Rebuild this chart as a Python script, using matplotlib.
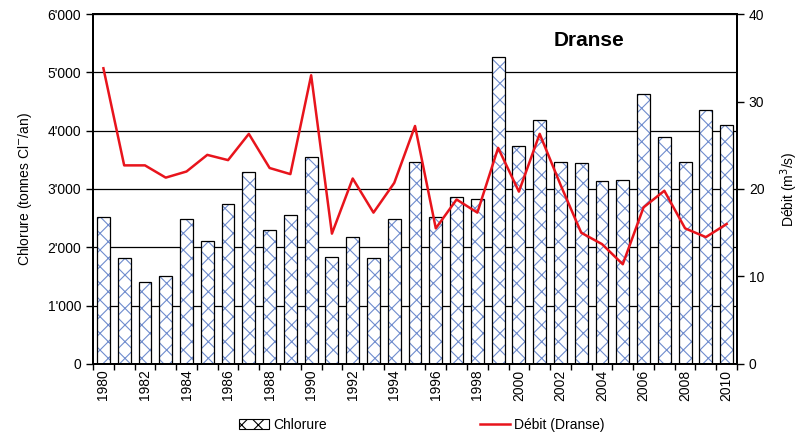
import numpy as np
import matplotlib.pyplot as plt
from matplotlib.ticker import FuncFormatter
from matplotlib.patches import Patch
from matplotlib.lines import Line2D

plt.rcParams['font.family'] = ['Liberation Sans', 'DejaVu Sans']

years = list(range(1980, 2011))
chlorure = [2520, 1820, 1400, 1500, 2490, 2100, 2750, 3290, 2290, 2550,
            3550, 1840, 2180, 1820, 2490, 3460, 2520, 2860, 2820, 5260,
            3730, 4190, 3470, 3450, 3130, 3150, 4630, 3890, 3470, 4350,
            4090]
debit = [33.8, 22.7, 22.7, 21.3, 22.0, 23.9, 23.3, 26.3, 22.4, 21.7,
         33.0, 14.9, 21.2, 17.3, 20.7, 27.2, 15.5, 18.8, 17.3, 24.7,
         19.7, 26.3, 20.5, 15.0, 13.7, 11.4, 17.9, 19.8, 15.5, 14.5,
         16.0]

HATCH_BLUE = '#6f8cce'
RED = '#e8141c'

fig = plt.figure(figsize=(8.11, 4.38), dpi=100)
ax = fig.add_axes([0.1147, 0.169, 0.7941, 0.799])
x = np.arange(len(years))

plt.rcParams['hatch.linewidth'] = 0.8
ax.bar(x, chlorure, width=0.62, color='white', edgecolor=HATCH_BLUE,
       hatch='xx', linewidth=0, zorder=2)
ax.bar(x, chlorure, width=0.62, color='none', edgecolor='black',
       linewidth=0.9, zorder=3)

ax.set_ylim(0, 6000)
ax.set_xlim(-0.5, len(years) - 0.5)
ax.set_yticks(range(0, 6001, 1000))
ax.yaxis.set_major_formatter(FuncFormatter(lambda v, p: f"{int(v):,}".replace(',', "'")))
ax.grid(axis='y', color='black', linewidth=0.9, zorder=1)
ax.set_axisbelow(True)

ax.set_xticks(x[::2])
ax.set_xticklabels([str(y) for y in years[::2]], rotation=90)
ax.set_xticks(np.arange(-0.5, len(years), 1), minor=True)
ax.tick_params(axis='x', which='major', length=0, pad=4, labelsize=10)
ax.tick_params(axis='x', which='minor', length=4, direction='out', width=1)
ax.tick_params(axis='y', length=5, direction='out', width=1, labelsize=10)
ax.set_ylabel('Chlorure (tonnes Cl$^{-}$/an)', fontsize=10, labelpad=10)

for s in ax.spines.values():
    s.set_linewidth(1.4)
    s.set_color('black')

ax2 = ax.twinx()
ax2.plot(x, debit, color=RED, linewidth=1.8, zorder=4)
ax2.set_ylim(0, 40)
ax2.set_yticks(range(0, 41, 10))
ax2.tick_params(axis='y', length=5, direction='out', width=1, labelsize=10)
ax2.set_ylabel('Débit (m$^3$/s)', fontsize=10, labelpad=10)
for s in ax2.spines.values():
    s.set_linewidth(1.4)

ax.text(0.77, 0.925, 'Dranse', transform=ax.transAxes, fontsize=15,
        fontweight='bold', ha='center', va='center')

handles = [Patch(facecolor='white', edgecolor=HATCH_BLUE, hatch='xx', linewidth=0.8),
           Line2D([0], [0], color=RED, linewidth=1.8)]
leg = fig.legend(handles, ['Chlorure', 'Débit (Dranse)'], loc='center',
                 bbox_to_anchor=(0.52, 0.03), ncol=2, frameon=False,
                 fontsize=10, columnspacing=11, handlelength=2.2,
                 handletextpad=0.3)
leg.get_patches()[0].set_edgecolor('black')

fig.savefig('out.png', dpi=100)
